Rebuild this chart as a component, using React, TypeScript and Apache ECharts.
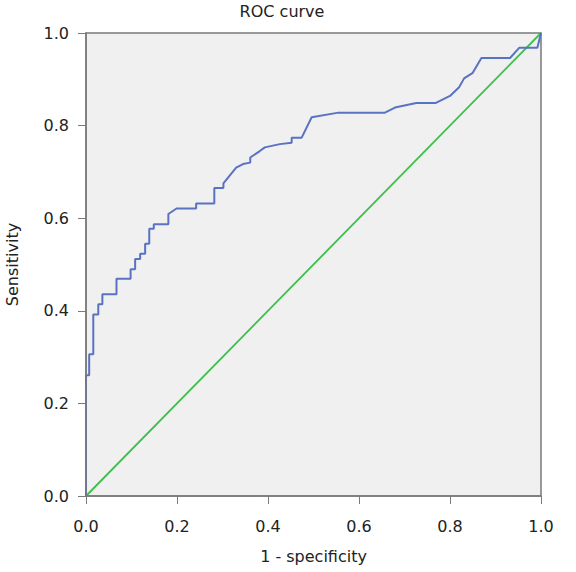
import React, { useEffect, useRef } from "react";
import * as echarts from "echarts";

const fpr = [0, 0, 0.007, 0.007, 0.016, 0.016, 0.027, 0.027, 0.036, 0.036, 0.067, 0.067, 0.098, 0.098, 0.108, 0.108, 0.119, 0.119, 0.13, 0.13, 0.139, 0.139, 0.149, 0.149, 0.181, 0.181, 0.199, 0.242, 0.242, 0.282, 0.282, 0.302, 0.302, 0.33, 0.345, 0.361, 0.361, 0.382, 0.393, 0.426, 0.452, 0.452, 0.474, 0.496, 0.555, 0.657, 0.679, 0.726, 0.769, 0.8, 0.82, 0.831, 0.85, 0.869, 0.932, 0.952, 0.992, 1];
const tpr = [0, 0.261, 0.261, 0.306, 0.306, 0.392, 0.392, 0.414, 0.414, 0.436, 0.436, 0.469, 0.469, 0.49, 0.49, 0.512, 0.512, 0.523, 0.523, 0.545, 0.545, 0.577, 0.577, 0.587, 0.587, 0.609, 0.621, 0.621, 0.632, 0.632, 0.665, 0.665, 0.675, 0.709, 0.717, 0.72, 0.731, 0.745, 0.753, 0.76, 0.763, 0.774, 0.774, 0.818, 0.828, 0.828, 0.839, 0.849, 0.849, 0.864, 0.883, 0.902, 0.914, 0.946, 0.946, 0.968, 0.968, 1];
const refX = [0, 1];
const refY = [0, 1];

const FONT = "DejaVu Sans";
const AXIS_COLOR = "#7a7a7a";

export default function App() {
  const ref = useRef<HTMLDivElement>(null);
  useEffect(() => {
    if (!ref.current) return;
    const chart = echarts.init(ref.current, null, { renderer: "svg" });
    const axisCommon = {
      type: "value",
      min: 0,
      max: 1,
      interval: 0.2,
      z: 10,
      nameLocation: "middle",
      nameTextStyle: { fontFamily: FONT, fontSize: 16, color: "#222" },
      axisLine: { show: true, lineStyle: { color: AXIS_COLOR, width: 1.5 } },
      axisTick: { show: true, inside: false, length: 8, lineStyle: { color: AXIS_COLOR, width: 1 } },
      axisLabel: { fontFamily: FONT, fontSize: 16, color: "#222", formatter: (v: number) => v.toFixed(1) },
      splitLine: { show: false },
    };
    chart.setOption({
      animation: false,
      backgroundColor: "#ffffff",
      grid: {
        left: 86,
        right: 35,
        top: 33,
        bottom: 76,
        containLabel: false,
        outerBoundsMode: "none",
        show: true,
        backgroundColor: "#f0f0f0",
        borderColor: AXIS_COLOR,
        borderWidth: 1.5,
      },
      graphic: [
        {
          type: "text",
          x: 282,
          y: 11,
          style: {
            text: "ROC curve",
            fontFamily: FONT,
            fontSize: 16,
            fill: "#222",
            align: "center",
            verticalAlign: "middle",
          },
        },
      ],
      xAxis: {
        ...axisCommon,
        name: "1 - specificity",
        nameGap: 52,
        axisLabel: { ...axisCommon.axisLabel, margin: 22 },
      },
      yAxis: {
        ...axisCommon,
        name: "Sensitivity",
        nameGap: 66,
        axisLabel: { ...axisCommon.axisLabel, margin: 17 },
      },
      series: [
        {
          type: "line",
          data: refX.map((x, i) => [x, refY[i]]),
          symbol: "none",
          lineStyle: { color: "#3dbf4b", width: 1.8 },
          z: 2,
        },
        {
          type: "line",
          data: fpr.map((x, i) => [x, tpr[i]]),
          symbol: "none",
          lineStyle: { color: "#5a72c2", width: 2 },
          z: 3,
        },
      ],
    });
    return () => chart.dispose();
  }, []);
  return <div ref={ref} style={{ width: 576, height: 572, position: "absolute", left: 0, top: 0 }} />;
}
